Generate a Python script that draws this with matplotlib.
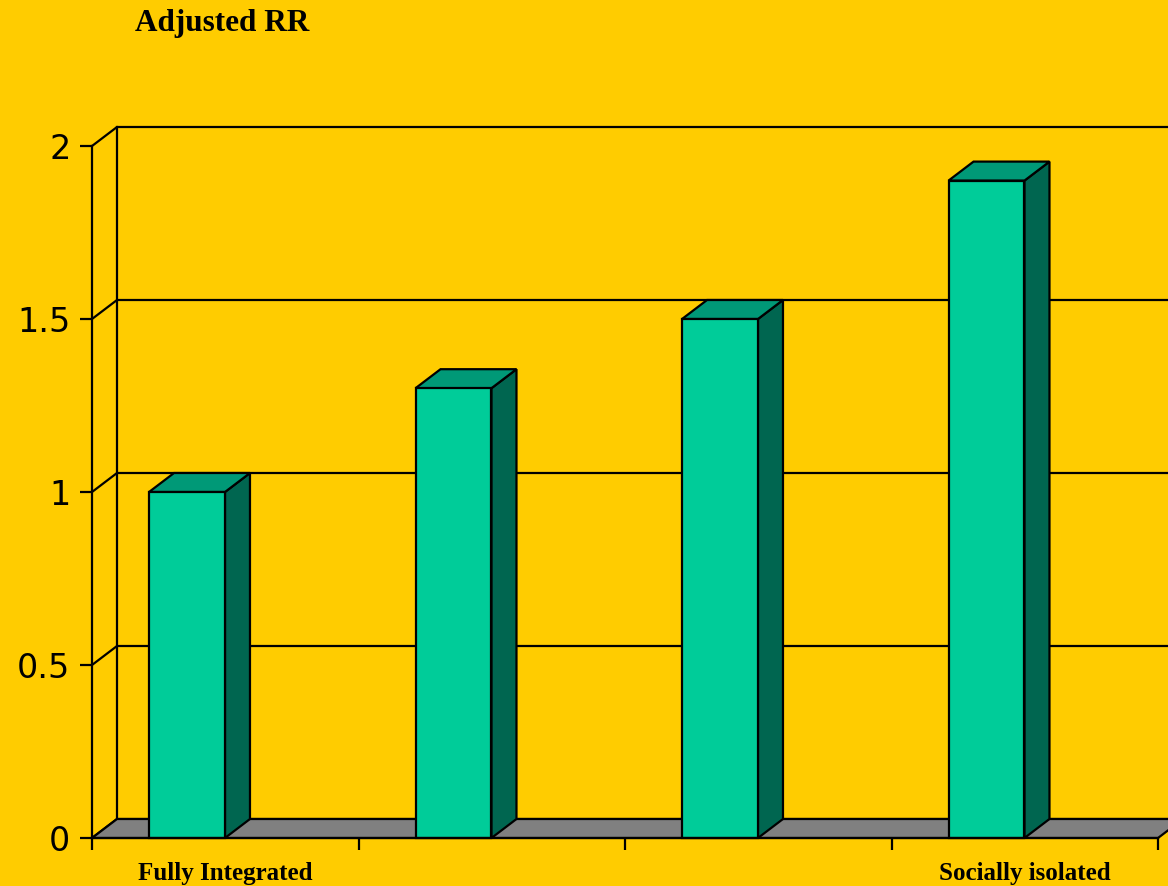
import matplotlib
matplotlib.use('Agg')
import matplotlib.pyplot as plt
from matplotlib.patches import Polygon

# adjusted relative risk by level of social integration
categories = ['Fully Integrated', '', '', 'Socially isolated']
rr_values = [1.0, 1.3, 1.5, 1.9]
y_ticks = [0, 0.5, 1, 1.5, 2]
y_tick_labels = ['0', '0.5', '1', '1.5', '2']

bg = '#FFCC00'
front_col = '#00CC99'
top_col = '#009977'
side_col = '#006650'
floor_col = '#808080'

W, H = 1168, 886
fig = plt.figure(figsize=(W / 100, H / 100), dpi=100, facecolor=bg)
# axes placed so that the front plane of the 3d box matches the picture
ax = fig.add_axes([92 / W, (H - 838) / H, (1158 - 92) / W, (838 - 146) / H])
ax.set_facecolor('none')
n = len(rr_values)
ax.set_xlim(0, n)
ax.set_ylim(0, 2)

# depth offset of the pseudo 3d view (in data units)
dx = 25 / 266.5
dy = 19 / 346
lw = 1.6
x_far = n + 0.3

# back and side walls with gridlines
for t in y_ticks:
    ax.plot([0, dx, x_far], [t, t + dy, t + dy], color='black', lw=lw,
            clip_on=False, zorder=1, solid_joinstyle='miter')
ax.plot([dx, dx], [dy, 2 + dy], color='black', lw=lw, clip_on=False, zorder=1)

# floor
floor = Polygon([(0, 0), (n, 0), (n + dx, dy), (dx, dy)], closed=True,
                facecolor=floor_col, edgecolor='black', lw=lw, clip_on=False, zorder=2)
ax.add_patch(floor)

# 3d columns
bar_off = 0.214
bar_w = 0.285
for i, v in enumerate(rr_values):
    x0 = i + bar_off
    x1 = x0 + bar_w
    side = Polygon([(x1, 0), (x1 + dx, dy), (x1 + dx, v + dy), (x1, v)], closed=True,
                   facecolor=side_col, edgecolor='black', lw=lw, clip_on=False, zorder=3)
    top = Polygon([(x0, v), (x0 + dx, v + dy), (x1 + dx, v + dy), (x1, v)], closed=True,
                  facecolor=top_col, edgecolor='black', lw=lw, clip_on=False, zorder=3)
    front = Polygon([(x0, 0), (x1, 0), (x1, v), (x0, v)], closed=True,
                    facecolor=front_col, edgecolor='black', lw=lw, clip_on=False, zorder=4)
    ax.add_patch(side)
    ax.add_patch(top)
    ax.add_patch(front)

# axes styling
for s in ['top', 'right']:
    ax.spines[s].set_visible(False)
for s in ['left', 'bottom']:
    ax.spines[s].set_linewidth(lw)
    ax.spines[s].set_zorder(5)

ax.set_yticks(y_ticks)
ax.set_yticklabels(y_tick_labels, fontsize=24, family='DejaVu Sans')
ax.tick_params(axis='y', length=8.5, width=lw, pad=7)

ax.set_xticks(range(n + 1))
ax.set_xticklabels([''] * (n + 1))
ax.set_xticks([i + 0.5 for i in range(n)], minor=True)
ax.set_xticklabels(categories, minor=True, fontsize=18, fontweight='bold',
                   family='Liberation Serif')
ax.tick_params(axis='x', which='major', length=8.5, width=lw)
ax.tick_params(axis='x', which='minor', length=0, pad=17)

fig.text(135 / W, 1 - 24 / H, 'Adjusted RR', fontsize=22.5, fontweight='bold',
         family='Liberation Serif', va='center', ha='left')

fig.savefig('out.png', dpi=100, facecolor=bg)
